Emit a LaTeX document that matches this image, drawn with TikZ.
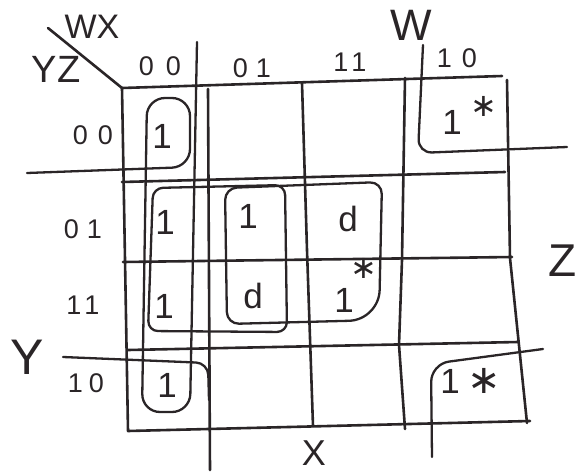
\documentclass[tikz,border=0pt]{standalone}
\usepackage{fontspec}
\setmainfont{Liberation Sans}
\newfontfamily\starfont{DejaVu Sans}
\usetikzlibrary{calc}
\definecolor{penink}{RGB}{42,37,39}
\tikzset{pen/.style={draw=penink, line width=2.6pt, line cap=round, line join=round},
         ring/.style={pen, line width=2.3pt, rounded corners=#1},
         ring/.default=14pt,
         entry/.style={text=penink, inner sep=0pt, font=\fontsize{35}{35}\selectfont},
         head/.style={text=penink, inner sep=0pt, font=\fontsize{27}{27}\selectfont},
         varname/.style={text=penink, inner sep=0pt, font=\fontsize{#1}{#1}\selectfont},
         starsign/.style={text=penink, inner sep=0pt, font=\starfont\fontsize{#1}{#1}\selectfont}}

\begin{document}
\begin{tikzpicture}[x=1pt,y=-1pt]
  \useasboundingbox (0,0) rectangle (582,472);
  \draw[pen] (48,28) -- (122,88);
  \draw[pen] (122,88) -- (502,76);
  \draw[pen] (507,80) -- (510,258) -- (527,423);
  \draw[pen] (122,88) -- (128,431) -- (530,421);
  \draw[pen] (208,89) -- (210,470);
  \draw[pen] (302,83) -- (307,250) -- (313,426);
  \draw[pen] (405,78) -- (402,260) -- (399,345) -- (405,429);
  \draw[pen] (122,182) -- (505,172);
  \draw[pen] (123,262) -- (512,257);
  \draw[pen] (128,350) -- (518,342);

  \draw[ring=18pt] (197,42) -- (190,412) -- (142,412) -- (147,98) -- (190,98) -- (190,167) -- (27,173);
  \draw[ring=12pt] (63,357) -- (208,363) -- (209,400);
  \draw[ring=14pt] (423,45) -- (418,153) -- (567,147);
  \draw[ring=18pt] (543,349) -- (431,364) -- (432,457);
  \draw[ring=10pt] (153,188) -- (285,185) -- (287,332) -- (148,331) -- cycle;
  \draw[ring=12pt] (225,188) -- (382,182) [rounded corners=30pt] -- (379,320) [rounded corners=12pt] -- (227,324) -- cycle;

  \node[varname=34] (wxlabel) at (92,27) {WX};
  \node[varname=38] (yzlabel) at (56,69) {YZ};
  \node[varname=44] (varW) at (411,25) {W};
  \node[varname=46] (varZ) at (563,261) {Z};
  \node[varname=50] (varY) at (27,357) {Y};
  \node[varname=36] (varX) at (314,453) {X};

  \node[head] (col00) at (160,66) {0\kern12pt0};
  \node[head] (col01) at (252,68) {0\kern8pt1};
  \node[head] (col11) at (350,62) {1\kern3pt1};
  \node[head] (col10) at (457,58) {1\kern10pt0};
  \node[head] (row00) at (93,135) {0\kern10pt0};
  \node[head] (row01) at (83,229) {0\kern8pt1};
  \node[head] (row11) at (83,305) {1\kern3pt1};
  \node[head] (row10) at (86,383) {1\kern6pt0};

  \node[entry] (c0000) at (162,136) {1};
  \node[entry] (c0100) at (165,222) {1};
  \node[entry] (c1100) at (164,306) {1};
  \node[entry] (c1000) at (167,385) {1};
  \node[entry] (c0101) at (248,216) {1};
  \node[entry] (c1101) at (253,296) {d};
  \node[entry] (c0111) at (348,219) {d};
  \node[entry] (c1111) at (344,300) {1};
  \node[entry] (c0010) at (452,122) {1};
  \node[entry] (c1010) at (450,381) {1};
  \node[starsign=32] (s1111) at (364,268) {∗};
  \node[starsign=32] (s0010) at (484,106) {∗};
  \node[starsign=40] (s1010) at (484,381) {∗};
\end{tikzpicture}
\end{document}
